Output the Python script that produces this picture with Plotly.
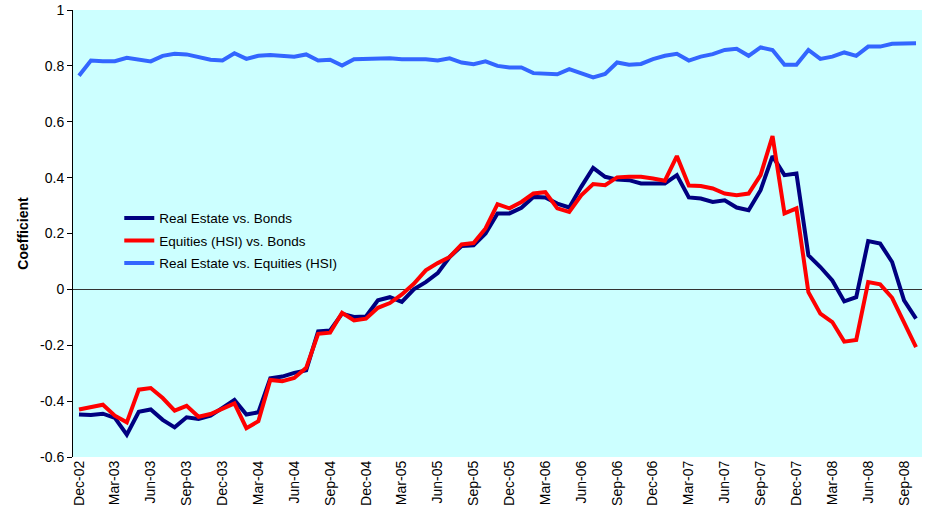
import pandas as pd
import plotly.graph_objects as go

months = pd.date_range("2002-12-01", "2008-10-01", freq="MS").strftime("%b-%y").tolist()

re_bonds = [-0.448, -0.45, -0.445, -0.46, -0.52, -0.438, -0.43, -0.467, -0.494, -0.458,
            -0.464, -0.452, -0.424, -0.396, -0.448, -0.44, -0.318, -0.312, -0.299, -0.29,
            -0.15, -0.147, -0.087, -0.099, -0.097, -0.039, -0.028, -0.045, 0.0, 0.026,
            0.058, 0.116, 0.155, 0.158, 0.2, 0.272, 0.272, 0.292, 0.331, 0.329,
            0.307, 0.293, 0.367, 0.435, 0.403, 0.393, 0.391, 0.379, 0.379, 0.379,
            0.409, 0.329, 0.325, 0.313, 0.319, 0.293, 0.283, 0.355, 0.477, 0.409,
            0.415, 0.122, 0.08, 0.032, -0.043, -0.028, 0.173, 0.164, 0.098, -0.039,
            -0.105]

eq_bonds = [-0.43, -0.42, -0.413, -0.452, -0.476, -0.359, -0.353, -0.389, -0.434, -0.417,
            -0.456, -0.446, -0.428, -0.408, -0.497, -0.472, -0.324, -0.329, -0.317, -0.281,
            -0.159, -0.155, -0.084, -0.111, -0.105, -0.066, -0.049, -0.018, 0.02, 0.068,
            0.094, 0.116, 0.161, 0.166, 0.218, 0.305, 0.29, 0.313, 0.343, 0.348,
            0.29, 0.277, 0.337, 0.377, 0.373, 0.401, 0.403, 0.403, 0.397, 0.389,
            0.477, 0.372, 0.37, 0.361, 0.343, 0.337, 0.343, 0.409, 0.549, 0.272,
            0.29, -0.01, -0.087, -0.117, -0.187, -0.181, 0.026, 0.018, -0.03, -0.117,
            -0.207]

re_eq = [0.765, 0.819, 0.817, 0.817, 0.829, 0.822, 0.816, 0.836, 0.843, 0.841,
         0.831, 0.822, 0.819, 0.845, 0.825, 0.836, 0.839, 0.836, 0.833, 0.841,
         0.819, 0.822, 0.801, 0.824, 0.825, 0.829, 0.827, 0.824, 0.824, 0.824,
         0.819, 0.827, 0.812, 0.806, 0.816, 0.8, 0.794, 0.794, 0.774, 0.771,
         0.77, 0.788, 0.774, 0.759, 0.771, 0.812, 0.804, 0.807, 0.824, 0.836,
         0.843, 0.819, 0.833, 0.842, 0.857, 0.861, 0.836, 0.866, 0.857, 0.804,
         0.804, 0.857, 0.825, 0.833, 0.848, 0.836, 0.869, 0.869, 0.879, 0.879,
         0.881]

y_ticks = [1, 0.8, 0.6, 0.4, 0.2, 0, -0.2, -0.4, -0.6]

font = "Liberation Sans, Arial, sans-serif"

fig = go.Figure()
series = [("Real Estate vs. Bonds", re_bonds, "#000080"),
          ("Equities (HSI) vs. Bonds", eq_bonds, "#FF0000"),
          ("Real Estate vs. Equities (HSI)", re_eq, "#3366FF")]
for name, vals, col in series:
    fig.add_trace(go.Scatter(x=months, y=vals, name=name, mode="lines",
                             legendgroup=name,
                             line=dict(color=col, width=4)))

fig.update_layout(
    width=931, height=513,
    margin=dict(l=73, r=9, t=10, b=56),
    paper_bgcolor="white", plot_bgcolor="#CCFFFF",
    font=dict(family=font, size=14, color="black"),
    showlegend=True,
    legend=dict(x=0.0545, y=0.569, xanchor="left", yanchor="top",
                bgcolor="rgba(0,0,0,0)", font=dict(size=13.5),
                traceorder="grouped", tracegroupgap=2),
    xaxis=dict(type="category", range=[-0.5, len(months) - 0.5],
               tickvals=months[::3], ticktext=months[::3],
               tickangle=-90, showgrid=False, showline=False, ticks="",
               tickfont=dict(size=14), automargin=False),
    yaxis=dict(range=[-0.6, 1], tickvals=y_ticks,
               ticktext=[("%g" % v) for v in y_ticks],
               showgrid=False, showline=True, linecolor="black", linewidth=1,
               ticks="outside", ticklen=5, tickcolor="black",
               zeroline=True, zerolinecolor="#333333", zerolinewidth=1,
               automargin=False,
               title=dict(text="<b>Coefficient</b>", font=dict(size=14), standoff=8)),
)

# drop the default 8px page margin so the figure sits at the window's corner
fig.write_html("out.html", config={"displayModeBar": False},
               post_script="document.body.style.margin='0';")
